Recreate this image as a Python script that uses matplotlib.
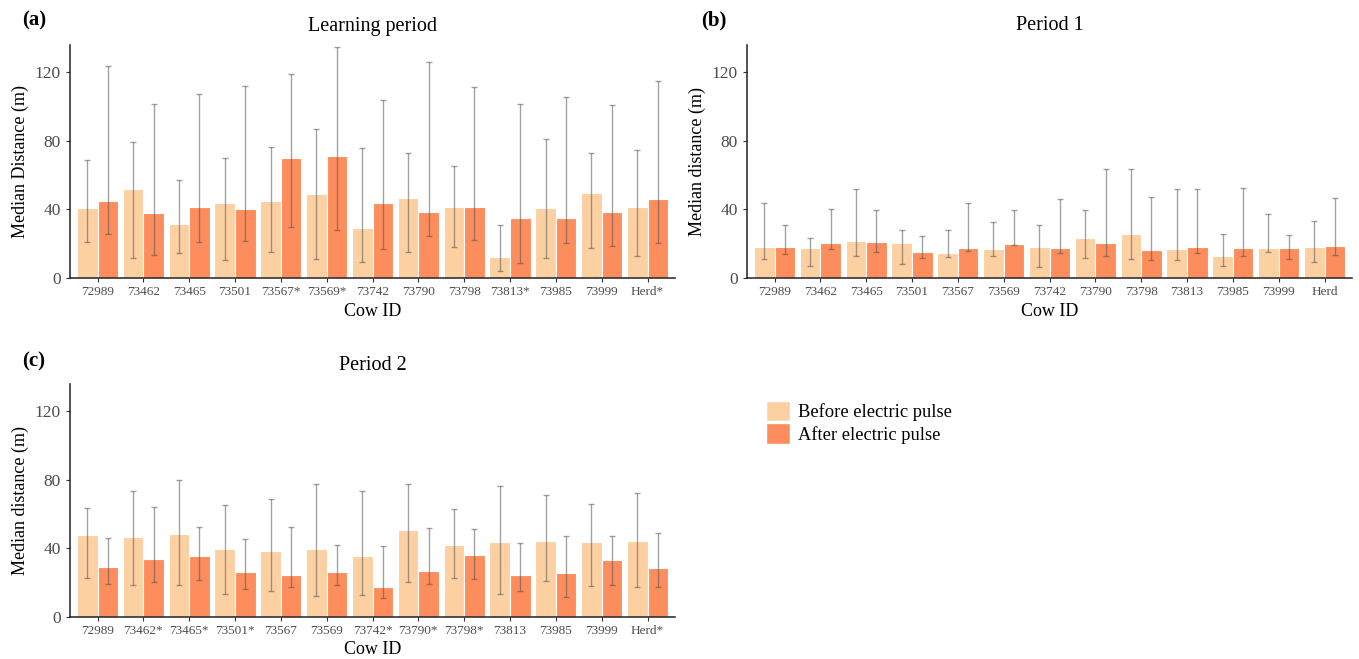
import matplotlib
matplotlib.use("Agg")
import matplotlib.pyplot as plt
import numpy as np

plt.rcParams['font.family'] = ['Liberation Serif', 'DejaVu Serif']

cows = ["72989", "73462", "73465", "73501", "73567", "73569", "73742",
        "73790", "73798", "73813", "73985", "73999", "Herd"]

labels_a = ["72989", "73462", "73465", "73501", "73567*", "73569*", "73742",
            "73790", "73798", "73813*", "73985", "73999", "Herd*"]
labels_b = cows
labels_c = ["72989", "73462*", "73465*", "73501*", "73567", "73569", "73742*",
            "73790*", "73798*", "73813", "73985", "73999", "Herd*"]

# learning period
before_a = [40.8, 52.2, 31.7, 43.9, 44.7, 49.1, 29.1, 46.8, 41.6, 12.2, 40.8, 49.7, 41.6]
before_a_lo = [20.8, 11.7, 14.8, 10.7, 15.3, 11.1, 9.3, 15.1, 18.3, 4.1, 11.7, 17.3, 13.0]
before_a_hi = [68.7, 79.4, 57.1, 70.3, 76.7, 87.2, 75.7, 73.0, 65.2, 30.9, 81.2, 73.0, 74.6]
after_a = [44.9, 37.7, 41.4, 40.2, 69.9, 71.1, 43.5, 38.6, 41.6, 35.0, 35.0, 38.8, 46.2]
after_a_lo = [25.8, 13.6, 21.0, 21.7, 29.5, 28.2, 17.1, 24.3, 21.9, 8.7, 20.4, 18.6, 20.4]
after_a_hi = [123.7, 101.6, 107.4, 111.8, 118.8, 134.6, 103.9, 126.2, 111.6, 101.4, 105.4, 100.8, 114.9]

# period 1
before_b = [17.9, 17.3, 21.7, 20.4, 14.8, 17.1, 18.1, 23.5, 25.4, 17.1, 12.8, 17.5, 18.1]
before_b_lo = [11.1, 7.2, 12.6, 8.3, 12.0, 13.0, 6.4, 11.7, 11.3, 10.3, 6.8, 15.1, 9.3]
before_b_hi = [43.7, 23.1, 51.8, 28.2, 28.0, 32.4, 30.9, 39.6, 63.7, 51.8, 25.6, 37.5, 33.0]
after_b = [18.3, 20.4, 21.2, 15.3, 17.7, 20.0, 17.7, 20.4, 16.3, 18.1, 17.5, 17.5, 18.6]
after_b_lo = [14.2, 16.9, 15.0, 11.7, 15.7, 19.0, 14.6, 12.6, 10.5, 14.6, 12.8, 11.1, 13.2]
after_b_hi = [30.9, 40.2, 39.4, 24.3, 43.9, 39.4, 46.0, 63.5, 47.0, 52.0, 52.6, 25.0, 46.6]

# period 2
before_c = [47.7, 46.5, 48.5, 39.5, 38.6, 39.7, 35.5, 50.6, 41.9, 43.6, 44.4, 44.0, 44.4]
before_c_lo = [22.9, 18.6, 18.4, 13.6, 14.9, 12.4, 12.8, 20.4, 22.9, 13.4, 20.9, 18.0, 17.8]
before_c_hi = [63.6, 73.5, 79.7, 65.1, 68.8, 77.5, 73.5, 77.7, 62.8, 76.6, 71.0, 66.1, 72.1]
after_c = [29.3, 33.9, 35.5, 26.4, 24.4, 26.4, 17.3, 27.1, 36.1, 24.8, 25.4, 33.2, 28.5]
after_c_lo = [19.4, 20.4, 21.5, 16.3, 17.4, 18.4, 11.1, 19.4, 21.9, 15.3, 11.8, 18.6, 17.4]
after_c_hi = [46.1, 64.2, 52.5, 45.8, 52.3, 42.1, 41.7, 52.1, 51.2, 43.2, 47.5, 47.1, 48.9]

col_before = "#fdd0a2"
col_after = "#fd8d5c"
grey = "#4d4d4d"

W, H = 1359, 659
fig = plt.figure(figsize=(W / 100, H / 100), dpi=100)


def px_axes(left, top, right, bottom):
    return fig.add_axes([left / W, 1 - bottom / H, (right - left) / W, (bottom - top) / H])


def panel(ax, labels, b, b_lo, b_hi, a, a_lo, a_hi, title, ylabel, tag, tag_xy, title_y):
    x = np.arange(len(labels))
    w = 0.45
    ax.bar(x - w / 2, b, w, color=col_before, edgecolor="white", linewidth=0.8)
    ax.bar(x + w / 2, a, w, color=col_after, edgecolor="white", linewidth=0.8)
    for xs, v, lo, hi in [(x - w / 2, b, b_lo, b_hi), (x + w / 2, a, a_lo, a_hi)]:
        v = np.array(v)
        err = [v - np.array(lo), np.array(hi) - v]
        ax.errorbar(xs, v, yerr=err, fmt="none", ecolor="#555555", alpha=0.55,
                    elinewidth=1.0, capsize=2.2, capthick=1.0)
    ax.set_xlim(-0.6, len(labels) - 0.4)
    ax.set_ylim(0, 136)
    ax.set_yticks([0, 40, 80, 120])
    ax.set_xticks(x)
    ax.set_xticklabels(labels, fontsize=9.5, color=grey)
    ax.tick_params(axis="y", labelsize=12.5, labelcolor=grey, length=3, color="#333333")
    ax.tick_params(axis="x", length=3, color="#333333", pad=3)
    for s in ["top", "right"]:
        ax.spines[s].set_visible(False)
    for s in ["left", "bottom"]:
        ax.spines[s].set_linewidth(1.1)
        ax.spines[s].set_color("#222222")
    ax.set_xlabel("Cow ID", fontsize=13, labelpad=3)
    ax.set_ylabel(ylabel, fontsize=13, labelpad=4)
    pos = ax.get_position()
    fig.text((pos.x0 + pos.x1) / 2, 1 - title_y / H, title, ha="center", va="center", fontsize=14.5)
    fig.text(tag_xy[0] / W, 1 - tag_xy[1] / H, tag, ha="left", va="center", fontsize=15,
             fontweight="bold")


ax_a = px_axes(70, 45, 675, 278)
panel(ax_a, labels_a, before_a, before_a_lo, before_a_hi, after_a, after_a_lo, after_a_hi,
      "Learning period", "Median Distance (m)", "(a)", (22, 20), 26)

ax_b = px_axes(747, 45, 1352, 278)
panel(ax_b, labels_b, before_b, before_b_lo, before_b_hi, after_b, after_b_lo, after_b_hi,
      "Period 1", "Median distance (m)", "(b)", (701, 20), 26)

ax_c = px_axes(70, 384, 675, 617)
panel(ax_c, labels_c, before_c, before_c_lo, before_c_hi, after_c, after_c_lo, after_c_hi,
      "Period 2", "Median distance (m)", "(c)", (22, 361), 365)

handles = [plt.Rectangle((0, 0), 1, 1, facecolor=col_before, edgecolor="white"),
           plt.Rectangle((0, 0), 1, 1, facecolor=col_after, edgecolor="white")]
fig.legend(handles, ["Before electric pulse", "After electric pulse"],
           loc="upper left", bbox_to_anchor=(766 / W, 1 - 401 / H), frameon=False,
           fontsize=13.3, handlelength=1.3, handleheight=1.3, handletextpad=0.45,
           labelspacing=0.12, borderpad=0, borderaxespad=0)

fig.savefig("out.png", dpi=100)
